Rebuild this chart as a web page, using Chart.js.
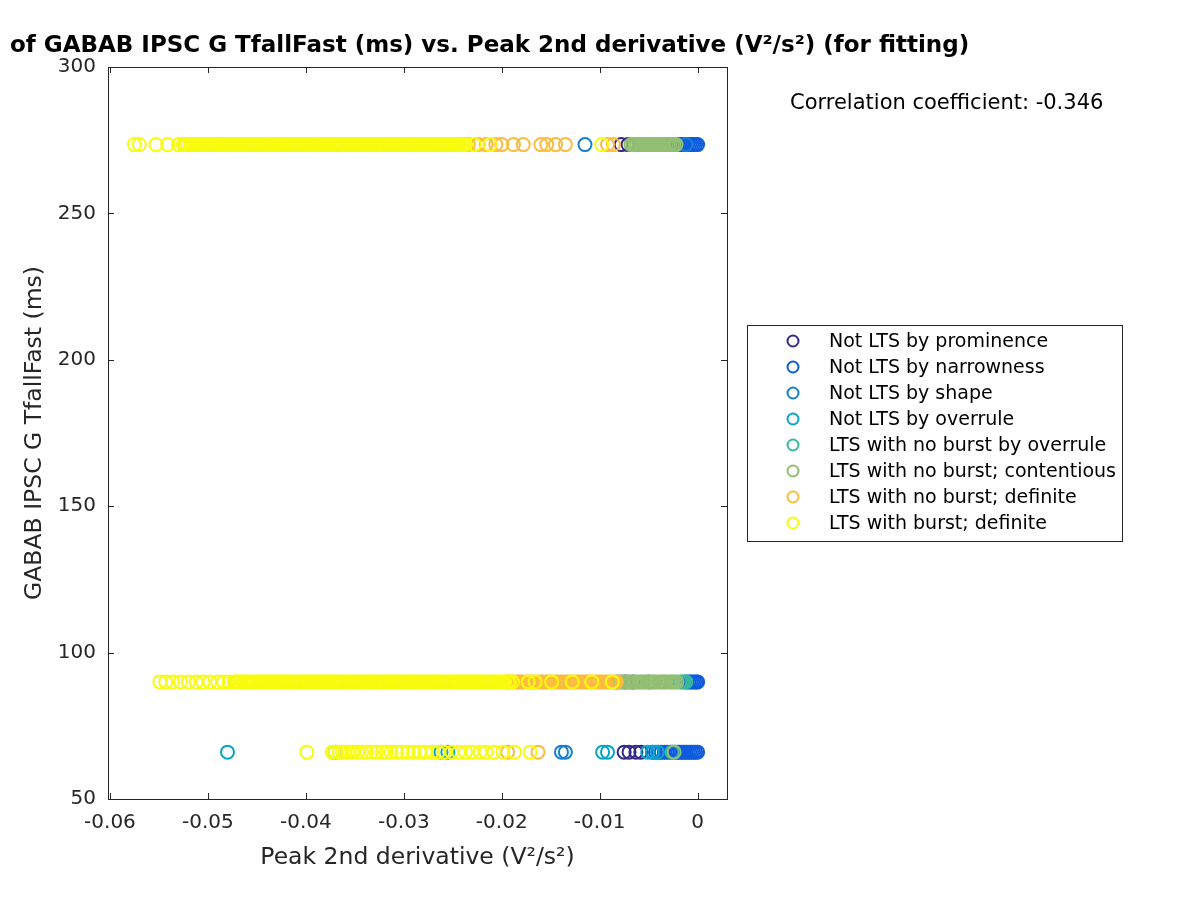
<!DOCTYPE html>
<html>
<head>
<meta charset="utf-8">
<script src="https://cdn.jsdelivr.net/npm/chart.js@4.4.0/dist/chart.umd.min.js"></script>
<style>
  html, body { margin: 0; background: #fff; }
</style>
</head>
<body>
<canvas id="scatterChart" width="1200" height="900"></canvas>
<script>
// Уровни строк по оси Y (ms)
const rowLevels = [273.5, 90, 66];

const classLabels = [
    'Not LTS by prominence',
    'Not LTS by narrowness',
    'Not LTS by shape',
    'Not LTS by overrule',
    'LTS with no burst by overrule',
    'LTS with no burst; contentious',
    'LTS with no burst; definite',
    'LTS with burst; definite'
];
const classColors = ['#352a87', '#0f5cdd', '#1481d6', '#06a7c6', '#38b99e', '#92bf73', '#fcbb3d', '#f9fb0e'];

// Значения x (V^2/s^2) для каждой строки: [верх 273.5, середина 90, низ 66]
const prominenceX = [
    [-0.0078, -0.0071],
    [-0.0074, -0.0066],
    [-0.0075, -0.0070, -0.0063, -0.0058]
];
const narrownessX = [
    [-0.0022, -0.0020, -0.0018, -0.0016, -0.0014, -0.0012, -0.0010, -0.0008, -0.0006, -0.0004, -0.0002, 0],
    [-0.0011, -0.0009, -0.0007, -0.0005, -0.0003, -0.0001, 0],
    [-0.0046, -0.0043, -0.0040, -0.0037, -0.0034, -0.0031, -0.0028, -0.0026, -0.0024, -0.0022, -0.0020, -0.0018,
     -0.0016, -0.0014, -0.0012, -0.0010, -0.0008, -0.0006, -0.0004, -0.0002, 0]
];
const shapeX = [
    [-0.0115, -0.0012],
    [-0.0082],
    [-0.0139, -0.0135]
];
const overruleX = [
    [-0.0052],
    [-0.0050],
    [-0.0480, -0.0370, -0.0262, -0.0255, -0.0097, -0.0092, -0.0051, -0.0046, -0.0041]
];
const ltsOverruleX = [
    [-0.0030],
    [-0.0018, -0.0016, -0.0014, -0.0012],
    [-0.0026]
];
const contentiousX = [
    [-0.0068, -0.0066, -0.0064, -0.0062, -0.0060, -0.0058, -0.0056, -0.0054, -0.0052, -0.0050, -0.0048, -0.0046,
     -0.0044, -0.0042, -0.0040, -0.0038, -0.0036, -0.0034, -0.0032, -0.0030, -0.0028, -0.0026, -0.0024, -0.0022],
    [-0.0080, -0.0078, -0.0076, -0.0073, -0.0071, -0.0069, -0.0067, -0.0065, -0.0062, -0.0060, -0.0058, -0.0056,
     -0.0054, -0.0051, -0.0049, -0.0047, -0.0045, -0.0043, -0.0040, -0.0038, -0.0036, -0.0034, -0.0032, -0.0029,
     -0.0027, -0.0025, -0.0023, -0.0021],
    [-0.0024]
];
const noBurstX = [
    [-0.0234, -0.0224, -0.0216, -0.0206, -0.0200, -0.0188, -0.0178, -0.0160, -0.0154, -0.0145, -0.0135, -0.0092, -0.0086],
    [-0.0195, -0.0193, -0.0190, -0.0188, -0.0185, -0.0183, -0.0180, -0.0178, -0.0175, -0.0173, -0.0170, -0.0168,
     -0.0165, -0.0163, -0.0160, -0.0158, -0.0155, -0.0153, -0.0150, -0.0148, -0.0145, -0.0143, -0.0140, -0.0138,
     -0.0135, -0.0133, -0.0130, -0.0128, -0.0125, -0.0123, -0.0120, -0.0118, -0.0115, -0.0113, -0.0110, -0.0108,
     -0.0105, -0.0103, -0.0100, -0.0098, -0.0095, -0.0093, -0.0090, -0.0088, -0.0085, -0.0083],
    [-0.0194, -0.0163]
];
const burstX = [
    [-0.0575, -0.0570, -0.0553, -0.0541, -0.0530,
     -0.0525, -0.0523, -0.0521, -0.0518, -0.0516, -0.0514, -0.0512, -0.0509, -0.0507, -0.0505,
     -0.0503, -0.0500, -0.0498, -0.0496, -0.0494, -0.0491, -0.0489, -0.0487, -0.0485, -0.0482,
     -0.0480, -0.0478, -0.0476, -0.0473, -0.0471, -0.0469, -0.0467, -0.0464, -0.0462, -0.0460,
     -0.0458, -0.0455, -0.0453, -0.0451, -0.0449, -0.0446, -0.0444, -0.0442, -0.0440, -0.0437,
     -0.0435, -0.0433, -0.0431, -0.0428, -0.0426, -0.0424, -0.0422, -0.0419, -0.0417, -0.0415,
     -0.0413, -0.0410, -0.0408, -0.0406, -0.0404, -0.0401, -0.0399, -0.0397, -0.0395, -0.0392,
     -0.0390, -0.0388, -0.0386, -0.0383, -0.0381, -0.0379, -0.0377, -0.0374, -0.0372, -0.0370,
     -0.0368, -0.0365, -0.0363, -0.0361, -0.0359, -0.0356, -0.0354, -0.0352, -0.0350, -0.0347,
     -0.0345, -0.0343, -0.0341, -0.0338, -0.0336, -0.0334, -0.0332, -0.0329, -0.0327, -0.0325,
     -0.0323, -0.0320, -0.0318, -0.0316, -0.0314, -0.0311, -0.0309, -0.0307, -0.0305, -0.0302,
     -0.0300, -0.0298, -0.0296, -0.0293, -0.0291, -0.0289, -0.0287, -0.0284, -0.0282, -0.0280,
     -0.0278, -0.0275, -0.0273, -0.0271, -0.0269, -0.0266, -0.0264, -0.0262, -0.0260, -0.0257,
     -0.0255, -0.0253, -0.0251, -0.0248, -0.0246, -0.0244, -0.0242, -0.0239, -0.0237,
     -0.0228, -0.0212, -0.0098],
    [-0.0549, -0.0543, -0.0536, -0.0528, -0.0520, -0.0512, -0.0505, -0.0498, -0.0490, -0.0484, -0.0478,
     -0.0473, -0.0471, -0.0469, -0.0467, -0.0464, -0.0462, -0.0460,
     -0.0458, -0.0455, -0.0453, -0.0451, -0.0449, -0.0446, -0.0444, -0.0442, -0.0440, -0.0437,
     -0.0435, -0.0433, -0.0431, -0.0428, -0.0426, -0.0424, -0.0422, -0.0419, -0.0417, -0.0415,
     -0.0413, -0.0410, -0.0408, -0.0406, -0.0404, -0.0401, -0.0399, -0.0397, -0.0395, -0.0392,
     -0.0390, -0.0388, -0.0386, -0.0383, -0.0381, -0.0379, -0.0377, -0.0374, -0.0372, -0.0370,
     -0.0368, -0.0365, -0.0363, -0.0361, -0.0359, -0.0356, -0.0354, -0.0352, -0.0350, -0.0347,
     -0.0345, -0.0343, -0.0341, -0.0338, -0.0336, -0.0334, -0.0332, -0.0329, -0.0327, -0.0325,
     -0.0323, -0.0320, -0.0318, -0.0316, -0.0314, -0.0311, -0.0309, -0.0307, -0.0305, -0.0302,
     -0.0300, -0.0298, -0.0296, -0.0293, -0.0291, -0.0289, -0.0287, -0.0284, -0.0282, -0.0280,
     -0.0278, -0.0275, -0.0273, -0.0271, -0.0269, -0.0266, -0.0264, -0.0262, -0.0260, -0.0257,
     -0.0255, -0.0253, -0.0251, -0.0248, -0.0246, -0.0244, -0.0242, -0.0239, -0.0237, -0.0235,
     -0.0233, -0.0230, -0.0228, -0.0226, -0.0224, -0.0221, -0.0219, -0.0217, -0.0215, -0.0212,
     -0.0210, -0.0208, -0.0206, -0.0203, -0.0201, -0.0199, -0.0197, -0.0194, -0.0192,
     -0.0189, -0.0173, -0.0166, -0.0149, -0.0128, -0.0108, -0.0087],
    [-0.0399, -0.0373, -0.0370, -0.0366, -0.0363, -0.0360, -0.0356, -0.0352, -0.0347, -0.0343, -0.0338, -0.0333,
     -0.0328, -0.0322, -0.0318, -0.0313, -0.0307, -0.0302, -0.0296, -0.0290, -0.0284, -0.0278, -0.0271, -0.0265,
     -0.0259, -0.0251, -0.0244, -0.0237, -0.0230, -0.0222, -0.0216, -0.0208, -0.0199, -0.0187, -0.0171]
];
const seriesX = [prominenceX, narrownessX, shapeX, overruleX, ltsOverruleX, contentiousX, noBurstX, burstX];

const xTicks = [-0.06, -0.05, -0.04, -0.03, -0.02, -0.01, 0];
const yTicks = [50, 100, 150, 200, 250, 300];

const titleText = 'of GABAB IPSC G TfallFast (ms) vs. Peak 2nd derivative (V\u00b2/s\u00b2) (for fitting)';
const corrText = 'Correlation coefficient: -0.346';

const FONT = '"DejaVu Sans", sans-serif';
const AXIS = '#262626';

// Точки из массивов по строкам
const toPoints = (rows) => rows.flatMap((xs, i) => xs.map(x => ({ x: x, y: rowLevels[i] })));

// Рамка, засечки внутрь, заголовок, легенда
const framePlugin = {
    id: 'frame',
    afterDatasetsDraw(chart) {
        const { ctx, chartArea: a, scales: { x, y } } = chart;
        ctx.save();
        ctx.strokeStyle = AXIS;
        ctx.lineWidth = 1;
        ctx.strokeRect(a.left + 0.5, a.top + 0.5, a.width, a.height);
        ctx.beginPath();
        xTicks.forEach(v => {
            const px = Math.round(x.getPixelForValue(v)) + 0.5;
            ctx.moveTo(px, a.bottom); ctx.lineTo(px, a.bottom - 6);
            ctx.moveTo(px, a.top); ctx.lineTo(px, a.top + 6);
        });
        yTicks.forEach(v => {
            const py = Math.round(y.getPixelForValue(v)) + 0.5;
            ctx.moveTo(a.left, py); ctx.lineTo(a.left + 6, py);
            ctx.moveTo(a.right, py); ctx.lineTo(a.right - 6, py);
        });
        ctx.stroke();

        ctx.fillStyle = '#000';
        ctx.textBaseline = 'middle';
        ctx.textAlign = 'left';
        ctx.font = 'bold 23px ' + FONT;
        ctx.fillText(titleText, 10, 46);

        ctx.font = '21px ' + FONT;
        ctx.fillText(corrText, 790, 104);

        // Легенда
        ctx.strokeStyle = '#262626';
        ctx.strokeRect(747.5, 325.5, 375, 216);
        ctx.font = '19px ' + FONT;
        classLabels.forEach((label, i) => {
            const cy = 341 + 26 * i;
            ctx.beginPath();
            ctx.strokeStyle = classColors[i];
            ctx.lineWidth = 2;
            ctx.arc(793, cy, 5.5, 0, Math.PI * 2);
            ctx.stroke();
            ctx.fillStyle = '#000';
            ctx.fillText(label, 829, cy + 1);
        });
        ctx.restore();
    }
};

const canvas = document.getElementById('scatterChart');
new Chart(canvas, {
    type: 'scatter',
    data: {
        datasets: classLabels.map((label, i) => ({
            label: label,
            data: toPoints(seriesX[i]),
            borderColor: classColors[i],
            backgroundColor: 'rgba(0,0,0,0)',
            pointRadius: 6.5,
            pointBorderWidth: 2,
            pointHoverRadius: 6.5,
            order: classLabels.length - i
        }))
    },
    options: {
        responsive: false,
        animation: false,
        devicePixelRatio: 1,
        layout: { padding: { left: 0, right: 473, top: 67, bottom: 0 } },
        plugins: {
            legend: { display: false },
            title: { display: false },
            tooltip: { enabled: false }
        },
        scales: {
            x: {
                type: 'linear',
                min: -0.0602,
                max: 0.003,
                afterFit: (s) => { s.height = 101; },
                afterBuildTicks: (s) => { s.ticks = xTicks.map(v => ({ value: v })); },
                grid: { display: false, drawTicks: false },
                border: { display: false },
                ticks: {
                    padding: 12,
                    color: AXIS,
                    font: { family: FONT, size: 20 },
                    callback: (v) => (Math.abs(v) < 1e-9 ? '0' : v.toFixed(2))
                },
                title: {
                    display: true,
                    text: 'Peak 2nd derivative (V\u00b2/s\u00b2)',
                    color: AXIS,
                    font: { family: FONT, size: 23.5 },
                    padding: { top: 0, bottom: 28 }
                }
            },
            y: {
                type: 'linear',
                min: 50,
                max: 300,
                afterFit: (s) => { s.width = 108; },
                afterBuildTicks: (s) => { s.ticks = yTicks.map(v => ({ value: v })); },
                grid: { display: false, drawTicks: false },
                border: { display: false },
                ticks: {
                    padding: 12,
                    color: AXIS,
                    font: { family: FONT, size: 20 }
                },
                title: {
                    display: true,
                    text: 'GABAB IPSC G TfallFast (ms)',
                    color: AXIS,
                    font: { family: FONT, size: 23.5 },
                    padding: { top: 21, bottom: 0 }
                }
            }
        }
    },
    plugins: [framePlugin]
});
</script>
</body>
</html>
